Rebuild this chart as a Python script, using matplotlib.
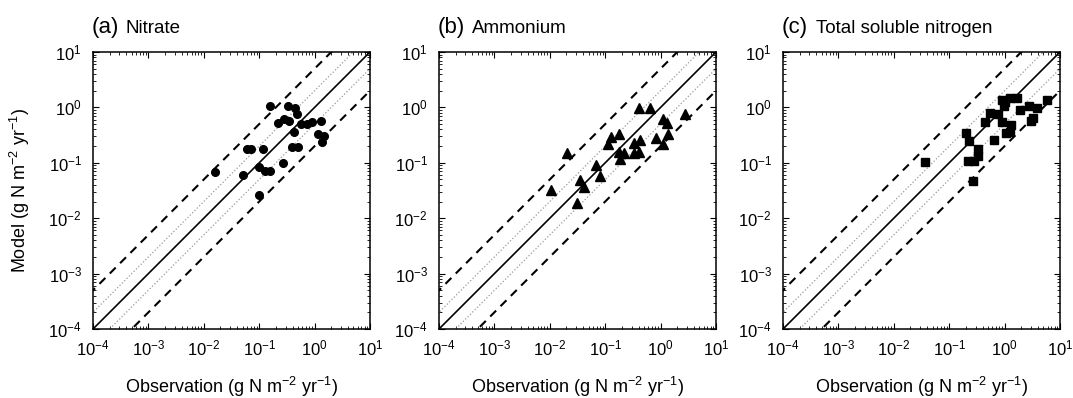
import numpy as np
import matplotlib
matplotlib.use('Agg')
import matplotlib.pyplot as plt

plt.rcParams['font.family'] = ['Liberation Sans', 'DejaVu Sans']
plt.rcParams['mathtext.fontset'] = 'custom'
plt.rcParams['mathtext.rm'] = 'Liberation Sans'
plt.rcParams['mathtext.it'] = 'Liberation Sans:italic'

# observation / model values (g N m-2 yr-1)
nitrate_obs = [0.157, 0.33, 0.44, 0.49, 0.22, 0.28, 0.34, 0.58, 0.72, 0.885, 1.31,
               0.43, 1.14, 1.48, 1.36, 0.061, 0.071, 0.119, 0.39, 0.50, 0.265,
               0.016, 0.052, 0.10, 0.127, 0.157, 0.098]
nitrate_mod = [1.06, 1.06, 0.96, 0.76, 0.53, 0.62, 0.57, 0.50, 0.50, 0.54, 0.57,
               0.36, 0.33, 0.30, 0.24, 0.178, 0.18, 0.18, 0.19, 0.195, 0.10,
               0.069, 0.060, 0.083, 0.072, 0.072, 0.026]

ammonium_obs = [0.40, 0.65, 2.75, 1.10, 1.29, 1.36, 0.81, 1.09, 0.175, 0.129, 0.112,
                0.33, 0.43, 0.175, 0.22, 0.186, 0.33, 0.41, 0.0207, 0.0675, 0.08,
                0.0355, 0.042, 0.0105, 0.0316]
ammonium_mod = [0.98, 0.98, 0.75, 0.61, 0.53, 0.335, 0.28, 0.215, 0.335, 0.29, 0.215,
                0.23, 0.254, 0.157, 0.148, 0.117, 0.148, 0.157, 0.152, 0.091, 0.058,
                0.048, 0.036, 0.032, 0.019]

tsn_obs = [0.89, 1.25, 1.65, 1.02, 0.98, 5.9, 2.75, 3.8, 1.9, 0.545, 0.77, 0.45, 0.91,
           1.29, 3.2, 3.0, 1.05, 1.27, 0.635, 0.20, 0.227, 0.327, 0.335, 0.22, 0.284,
           0.0366, 0.272]
tsn_mod = [1.37, 1.49, 1.49, 1.24, 1.08, 1.37, 1.08, 0.97, 0.88, 0.80, 0.77, 0.54, 0.54,
           0.49, 0.65, 0.56, 0.35, 0.357, 0.253, 0.34, 0.245, 0.179, 0.132, 0.110, 0.110,
           0.102, 0.047]

panels = [('(a)', 'Nitrate', nitrate_obs, nitrate_mod, 'o', 5.5),
          ('(b)', 'Ammonium', ammonium_obs, ammonium_mod, '^', 7),
          ('(c)', 'Total soluble nitrogen', tsn_obs, tsn_mod, 's', 5.5)]

lefts = [93, 439, 783]
W, H = 1073, 398

fig = plt.figure(figsize=(W / 100, H / 100), dpi=100)

xl = np.array([1e-5, 1e2])
for i, (tag, name, obs, mod, mk, ms) in enumerate(panels):
    ax = fig.add_axes([lefts[i] / W, (H - 329) / H, 277 / W, 277 / H])
    ax.plot(xl, xl, 'k-', lw=1.2)
    for f in (2.0, 0.5):
        ax.plot(xl, xl * f, ':', color='#999999', lw=0.9)
    for f in (5.0, 0.2):
        ax.plot(xl, xl * f, 'k--', lw=1.5, dashes=(4, 3))
    ax.plot(obs, mod, mk, color='k', ms=ms, ls='none', clip_on=False)
    ax.set_xscale('log')
    ax.set_yscale('log')
    ax.set_xlim(1e-4, 10)
    ax.set_ylim(1e-4, 10)
    ax.tick_params(which='both', direction='in', top=True, right=True, labelsize=12)
    ax.tick_params(which='major', length=4)
    ax.tick_params(which='minor', length=2)
    ax.tick_params(axis='x', pad=7)
    ax.tick_params(axis='y', pad=8)
    for s in ax.spines.values():
        s.set_linewidth(1.1)
    ax.set_xlabel('Observation (g N m$^{-2}$ yr$^{-1}$)', fontsize=13, labelpad=12)
    if i == 0:
        ax.set_ylabel('Model (g N m$^{-2}$ yr$^{-1}$)', fontsize=13, labelpad=12)
    x0 = (lefts[i] - 1) / W
    fig.text(x0, (H - 33) / H, tag, fontsize=16, va='baseline', ha='left')
    fig.text(x0 + 34 / W, (H - 33) / H, name, fontsize=13.5, va='baseline', ha='left')

fig.savefig('out.png', dpi=100)
